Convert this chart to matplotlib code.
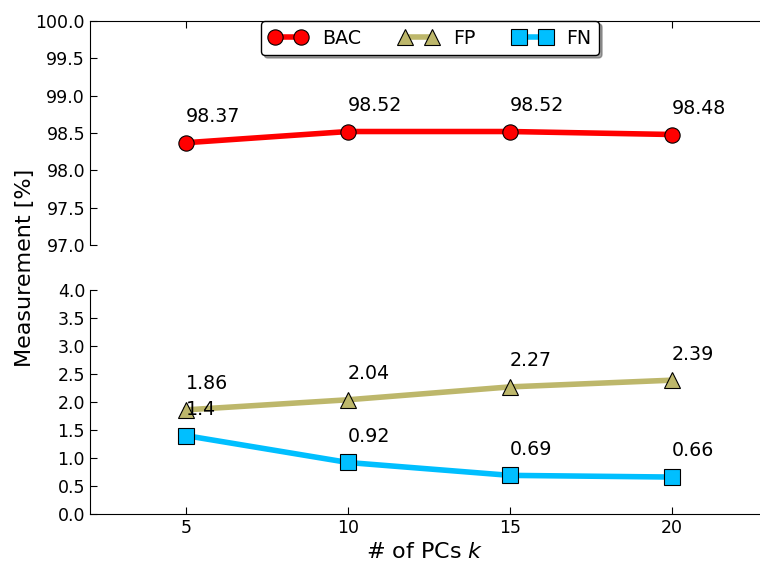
import numpy as np
import matplotlib
matplotlib.use("Agg")
from matplotlib import pyplot as plt

# number of principal components
ks = [5, 10, 15, 20]
bac = [98.37, 98.52, 98.52, 98.48]
fp = [1.86, 2.04, 2.27, 2.39]
fn = [1.4, 0.92, 0.69, 0.66]

top_ticks = [97.0, 97.5, 98.0, 98.5, 99.0, 99.5, 100.0]
bottom_ticks = [0.0, 0.5, 1.0, 1.5, 2.0, 2.5, 3.0, 3.5, 4.0]


def main():
    fig = plt.figure(figsize=(7.6, 5.63), dpi=100)
    ax_top = fig.add_axes([0.1184, 0.5648, 0.8816, 0.3979])
    ax_bot = fig.add_axes([0.1184, 0.0870, 0.8816, 0.3979])

    style = dict(lw=4, ms=11, mec='black', mew=0.8)
    h1, = ax_top.plot(ks, bac, '-o', color='#ff0000', label='BAC', **style)
    h2, = ax_bot.plot(ks, fp, '-^', color='#bdb76b', label='FP', **style)
    h3, = ax_bot.plot(ks, fn, '-s', color='#00bfff', label='FN', **style)

    for ax, vals in ((ax_top, bac), (ax_bot, fp), (ax_bot, fn)):
        for x, y in zip(ks, vals):
            ax.annotate(str(y), xy=(x, y), xytext=(0, 12),
                        textcoords='offset points', ha='left', va='bottom',
                        fontsize=13.7)

    for ax in (ax_top, ax_bot):
        ax.set_xlim(2.037, 22.716)
        ax.set_xticks(ks)
        ax.spines['right'].set_visible(False)
        ax.tick_params(direction='in', length=5, labelsize=12.5, right=False)

    ax_top.set_ylim(97.0, 100.0)
    ax_top.set_yticks(top_ticks)
    ax_top.set_yticklabels(['%.1f' % t for t in top_ticks])
    ax_top.spines['bottom'].set_visible(False)
    ax_top.tick_params(bottom=False, labelbottom=False, top=True)

    ax_bot.set_ylim(0.0, 4.0)
    ax_bot.set_yticks(bottom_ticks)
    ax_bot.set_yticklabels(['%.1f' % t for t in bottom_ticks])
    ax_bot.spines['top'].set_visible(False)
    ax_bot.tick_params(top=False)
    ax_bot.set_xlabel('# of PCs $k$', fontsize=16, labelpad=4)

    fig.text(0.033, 0.525, 'Measurement [%]', rotation=90, fontsize=16,
             ha='center', va='center')

    leg = ax_top.legend(handles=[h1, h2, h3], loc='upper center',
                        bbox_to_anchor=(0.508, 1.0), ncol=3, numpoints=2,
                        fontsize=13.7, shadow=True, fancybox=True,
                        borderaxespad=0, handlelength=2.0, handletextpad=0.8,
                        columnspacing=2.0, framealpha=1)
    leg.get_frame().set_edgecolor('black')

    fig.savefig('out.png', dpi=100)


main()
